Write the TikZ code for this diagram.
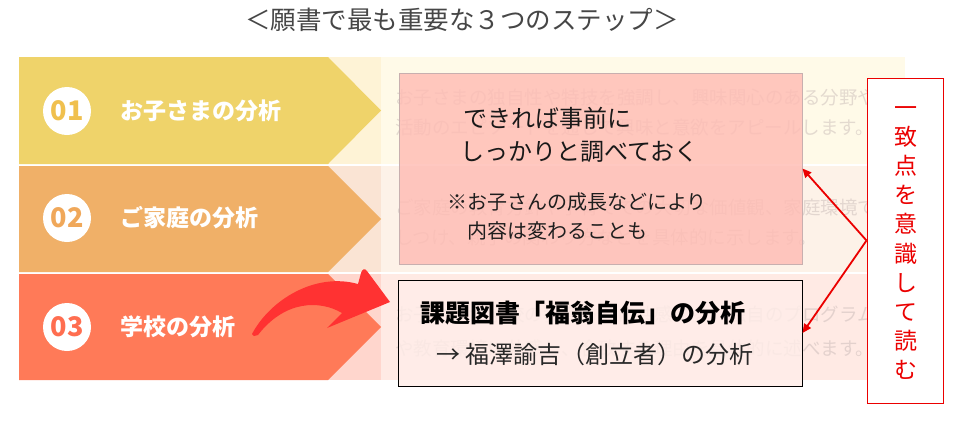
\documentclass[tikz,border=0pt]{standalone}
\usepackage{fontspec}
\setmainfont{Noto Sans CJK JP}
\usetikzlibrary{arrows.meta}
\definecolor{rowA}{RGB}{239,211,106}
\definecolor{rowB}{RGB}{240,176,104}
\definecolor{rowC}{RGB}{255,122,88}
\definecolor{panA}{RGB}{255,250,232}
\definecolor{panB}{RGB}{253,242,232}
\definecolor{panC}{RGB}{255,234,228}
\definecolor{stripA}{RGB}{254,243,214}
\definecolor{stripB}{RGB}{250,228,212}
\definecolor{stripC}{RGB}{255,214,205}
\definecolor{numA}{RGB}{240,192,78}
\definecolor{numB}{RGB}{240,168,90}
\definecolor{numC}{RGB}{255,110,80}
\definecolor{bgtxt}{RGB}{195,180,178}
\definecolor{boxpink}{RGB}{255,188,180}
\definecolor{boxlight}{RGB}{255,237,233}
\definecolor{titlegray}{RGB}{70,70,70}
\definecolor{arrowred}{RGB}{255,50,50}
\definecolor{markred}{RGB}{235,0,0}
\tikzset{
  txt/.style={inner sep=0pt, anchor=west},
  bgline/.style={txt, text=bgtxt, text opacity=0.45, font=\fontsize{18.5}{20}\selectfont},
  numcircle/.style={circle, fill=white, minimum size=48pt, inner sep=0pt, font=\fontsize{27}{29}\selectfont\bfseries},
  rowlabel/.style={txt, text=white, font=\fontsize{23}{25}\selectfont\bfseries},
  notebox/.style={draw={rgb,255:red,200;green,175;blue,175}, line width=0.8pt, fill=boxpink, fill opacity=0.82, inner sep=0pt, minimum width=403pt, minimum height=191pt},
  bookbox/.style={draw=black, line width=1pt, fill=boxlight, fill opacity=0.82, inner sep=0pt, minimum width=404pt, minimum height=106pt},
  markbox/.style={draw=markred, line width=1pt, fill=white, inner sep=0pt, minimum width=76pt, minimum height=325pt},
  redarrow/.style={draw=markred, line width=1.8pt, -{Triangle[length=9pt,width=8pt]}}
}
\begin{document}
\begin{tikzpicture}[x=1pt,y=-1pt]
\useasboundingbox (0,0) rectangle (973,431);
\fill[white] (0,0) rectangle (973,431);
% title
\node[inner sep=0pt, text=titlegray, font=\fontsize{25.5}{27}\selectfont] (title) at (462,20) {＜願書で最も重要な３つのステップ＞};
% panels
\fill[panA] (328,57) rectangle (905,164);
\fill[panB] (328,166) rectangle (905,272);
\fill[panC] (328,274) rectangle (905,380);
\fill[stripA] (328,57) rectangle (381,164);
\fill[stripB] (328,166) rectangle (381,272);
\fill[stripC] (328,274) rectangle (381,380);
% chevrons
\fill[rowA] (19,57) -- (328,57) -- (381,110.5) -- (328,164) -- (19,164) -- cycle;
\fill[rowB] (19,166) -- (328,166) -- (381,219) -- (328,272) -- (19,272) -- cycle;
\fill[rowC] (19,274) -- (328,274) -- (381,327) -- (328,380) -- (19,380) -- cycle;
% numbers and labels
\node[numcircle, text=numA] (n1) at (67,111) {01};
\node[numcircle, text=numB] (n2) at (67,218) {02};
\node[numcircle, text=numC] (n3) at (67,327) {03};
\node[rowlabel] (l1) at (120,111) {お子さまの分析};
\node[rowlabel] (l2) at (120,218) {ご家庭の分析};
\node[rowlabel] (l3) at (120,327) {学校の分析};
% faint description texts
\node[bgline] (d1a) at (395,98) {お子さまの独自性や特技を強調し、興味関心のある分野や};
\node[bgline] (d1b) at (395,128) {活動のエピソードを通して興味と意欲をアピールします。};
\node[bgline] (d2a) at (395,207) {ご家庭の教育方針や子育てでの大切な価値観、家庭環境での};
\node[bgline] (d2b) at (395,237) {しつけ、親子の関わり方などを具体的に示します。};
\node[bgline] (d3a) at (395,314) {お子さまが学校の教育方針に共感する、独自のプログラム};
\node[bgline] (d3b) at (395,348) {や教育環境に共感し、合致する理由を具体的に述べます。};
% boxes
\node[notebox] (b1) at (600.5,168.5) {};
\node[bookbox] (b2) at (600,333) {};
\node[txt, text={rgb,255:red,25;green,25;blue,25}, font=\fontsize{24}{26}\selectfont] (t1) at (463,118) {できれば事前に};
\node[txt, text={rgb,255:red,25;green,25;blue,25}, font=\fontsize{24}{26}\selectfont] (t2) at (460,152) {しっかりと調べておく};
\node[txt, text={rgb,255:red,30;green,30;blue,30}, font=\fontsize{20}{22}\selectfont] (t3) at (447,202) {※お子さんの成長などにより};
\node[txt, text={rgb,255:red,30;green,30;blue,30}, font=\fontsize{20}{22}\selectfont] (t4) at (467,231) {内容は変わることも};
\node[inner sep=0pt, text=black, font=\fontsize{25}{27}\selectfont\bfseries] (t5) at (583,313) {課題図書「福翁自伝」の分析};
\node[txt, text={rgb,255:red,40;green,40;blue,40}, font=\fontsize{24}{26}\selectfont] (t6) at (436,354) {→ 福澤諭吉（創立者）の分析};
% red mark box
\node[markbox] (rb) at (905,240.5) {};
\node[inner sep=0pt, align=center, text=markred, font=\fontsize{23}{29.1}\selectfont] (rt) at (906,243) {一\\致\\点\\を\\意\\識\\し\\て\\読\\む};
\draw[redarrow] (rb.west) -- (b1.east);
\draw[redarrow] (rb.west) -- (b2.east);
% big curved arrow
\fill[arrowred] (252,334) .. controls (270,300) and (315,272) .. (358,284)
  -- (361,273) .. controls (362,269) and (365,268) .. (367,271)
  -- (390,302) -- (327,328) -- (342,313)
  .. controls (320,300) and (285,300) .. (258,335) -- (254,336) -- cycle;
\end{tikzpicture}
\end{document}
